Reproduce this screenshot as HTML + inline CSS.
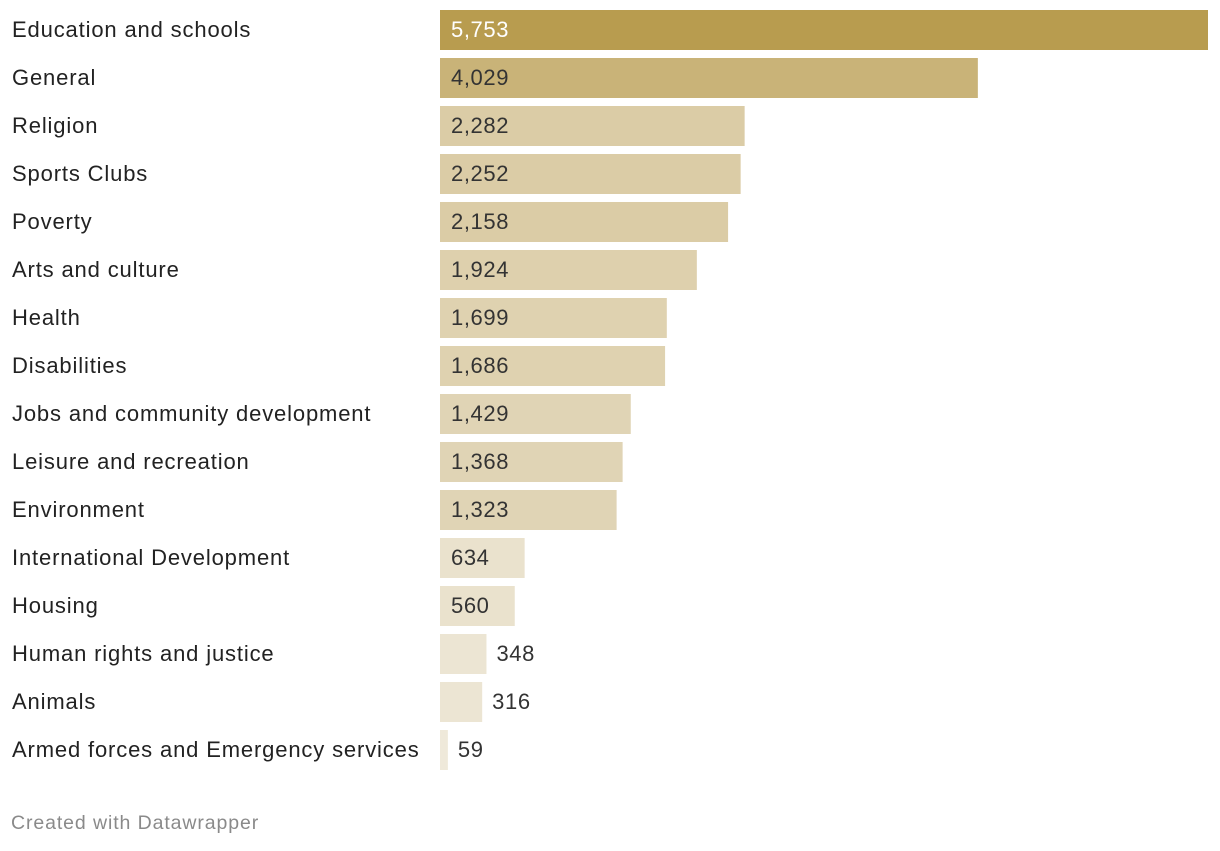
<!DOCTYPE html>
<html><head><meta charset="utf-8"><style>
body{margin:0;background:#fff;width:1220px;height:846px;overflow:hidden;font-family:"Liberation Sans",sans-serif}
</style></head><body>
<svg id="chart" width="1220" height="846" xmlns="http://www.w3.org/2000/svg">
<text x="11" y="829" font-size="19.5" letter-spacing="0.9" fill="#8a8a8a">Created with Datawrapper</text>
</svg>
<script>
const categories=["Education and schools","General","Religion","Sports Clubs","Poverty","Arts and culture","Health","Disabilities","Jobs and community development","Leisure and recreation","Environment","International Development","Housing","Human rights and justice","Animals","Armed forces and Emergency services"];
const values=[5753,4029,2282,2252,2158,1924,1699,1686,1429,1368,1323,634,560,348,316,59];
const svg=document.getElementById('chart');
const NS='http://www.w3.org/2000/svg';
const x0=440,x1=1208,top0=10,step=48,bh=40;
const maxV=Math.max(...values);
function xs(v){return v/maxV*(x1-x0);}
function ys(i){return top0+i*step;}
function shade(v){
  let t;
  if(v>=5000)t=1;else if(v>=3000)t=0.71;else if(v>=2000)t=0.39;else if(v>=1800)t=0.34;else if(v>=1500)t=0.32;else if(v>=1000)t=0.29;else if(v>=500)t=0.12;else if(v>=200)t=0.08;else t=0.03;
  const a=[241,235,222],b=[184,156,79];
  return 'rgb('+a.map((c,k)=>Math.round(c+(b[k]-c)*t)).join(',')+')';
}
const fmt=v=>v.toLocaleString('en-US');
categories.forEach((c,i)=>{
  const y=ys(i),w=xs(values[i]);
  const lab=document.createElementNS(NS,'text');
  lab.setAttribute('x',12);lab.setAttribute('y',y+27);
  lab.setAttribute('font-size','22');lab.setAttribute('letter-spacing','0.85');lab.setAttribute('fill','#222');
  
  
  lab.textContent=c;svg.appendChild(lab);
  const r=document.createElementNS(NS,'rect');
  r.setAttribute('x',x0);r.setAttribute('y',y);r.setAttribute('width',w);r.setAttribute('height',bh);
  r.setAttribute('fill',shade(values[i]));
  
  
  svg.appendChild(r);
  const t=document.createElementNS(NS,'text');
  const inside=w>65;
  t.setAttribute('x',inside?x0+11:x0+w+10);t.setAttribute('y',y+27);
  t.setAttribute('font-size','22');t.setAttribute('letter-spacing','0.6');
  t.setAttribute('fill',values[i]>=5000?'#fff':'#333');
  
  
  t.textContent=fmt(values[i]);svg.appendChild(t);
});
</script>
</body></html>
